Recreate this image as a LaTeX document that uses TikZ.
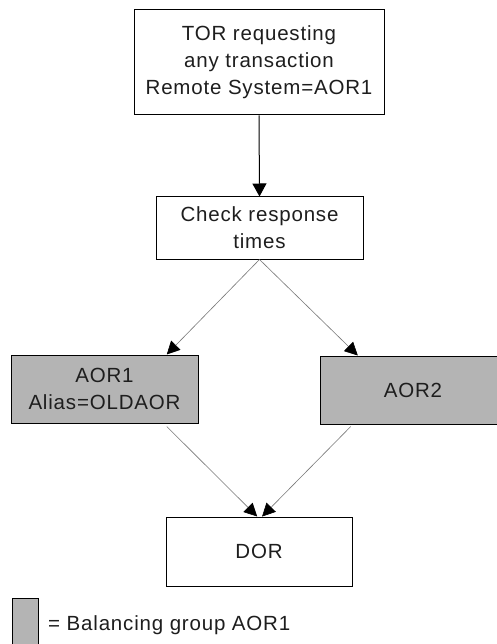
\documentclass[tikz,border=0pt]{standalone}
\usepackage{fontspec}
\setmainfont{Liberation Sans}[LetterSpace=4]
\usetikzlibrary{arrows.meta,calc}
\definecolor{groupgray}{RGB}{180,180,180}
\definecolor{linkgray}{RGB}{120,120,120}
\definecolor{inkgray}{RGB}{30,30,30}
\tikzset{
  labelfont/.style={font={\fontsize{20.5}{27}\selectfont}, text=inkgray},
  box/.style={draw=black, line width=1pt, rectangle, align=center, inner sep=0pt, labelfont},
  grpbox/.style={box, fill=groupgray},
  mainarrow/.style={draw=black, line width=1pt, -{Triangle[length=13pt,width=14pt,color=black]}},
  linkarrow/.style={draw=linkgray, line width=0.6pt, -{Triangle[length=13pt,width=13pt,color=black]}},
}
\begin{document}
\begin{tikzpicture}[x=1pt,y=-1pt]
  \clip (0,0) rectangle (497,644);
  \fill[white] (0,0) rectangle (497,644);

  \node[box, minimum width=250pt, minimum height=105pt] (tor) at (259,62.5)
    {TOR requesting\\any transaction\\Remote System=AOR1};
  \node[box, minimum width=207pt, minimum height=62pt] (chk) at (259.5,228)
    {Check response\\times};
  \node[grpbox, minimum width=187pt, minimum height=68pt] (aor1) at (104.5,389)
    {AOR1\\Alias=OLDAOR};
  \node[grpbox, minimum width=186pt, minimum height=68pt] (aor2) at (413,390)
    {AOR2};
  \node[box, minimum width=186pt, minimum height=69pt] (dor) at (259,551.5)
    {DOR};

  % legend
  \node[grpbox, minimum width=26pt, minimum height=50pt] (key) at (25,623) {};
  \node[anchor=base west, inner sep=0pt, labelfont] (keytext)
    at (48,630) {= Balancing group AOR1};

  % connectors
  \draw[mainarrow] (tor.south) -- (chk.north);
  \draw[linkarrow] (chk.south) -- (aor1.29);
  \draw[linkarrow] (chk.south) -- (aor2.148);
  \draw[linkarrow] ($(aor1.-29)+(0,3)$) -- (dor.93);
  \draw[linkarrow] ($(aor2.-151)+(0,2)$) -- (dor.85);
\end{tikzpicture}
\end{document}
